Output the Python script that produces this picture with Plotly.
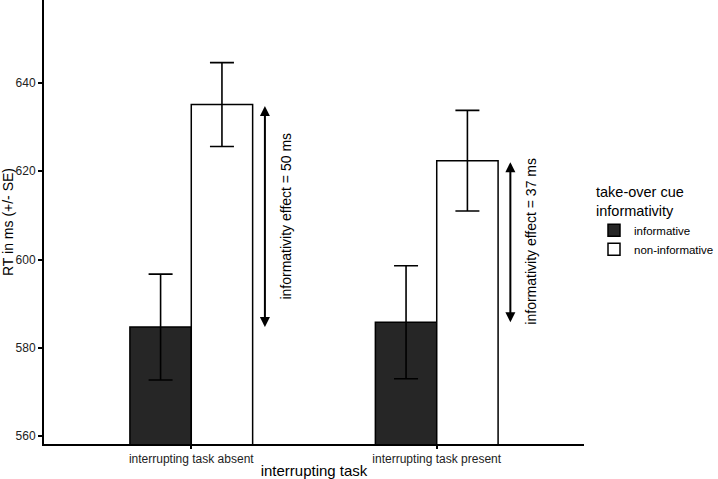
import plotly.graph_objects as go

categories = ["interrupting task absent", "interrupting task present"]
cat_pos = [1, 2]
informative_mean = [584.7, 585.8]
informative_se = [12.0, 12.8]
noninformative_mean = [635.1, 622.4]
noninformative_se = [9.5, 11.4]
y_ticks = [560, 580, 600, 620, 640]

FONT = "Liberation Sans, Arial, sans-serif"
BAR_W = 0.25

fig = go.Figure()
fig.add_trace(go.Bar(
    x=cat_pos, y=informative_mean, width=BAR_W, offset=-BAR_W,
    name="informative",
    marker=dict(color="#262626", line=dict(color="black", width=1.5)),
    error_y=dict(type="data", array=informative_se, color="black", thickness=1.6, width=12),
))
fig.add_trace(go.Bar(
    x=cat_pos, y=noninformative_mean, width=BAR_W, offset=0,
    name="non-informative",
    marker=dict(color="white", line=dict(color="black", width=1.5)),
    error_y=dict(type="data", array=noninformative_se, color="black", thickness=1.6, width=12),
))

# informativity effect arrows and labels
for c, lo, hi in zip(cat_pos, informative_mean, noninformative_mean):
    fig.add_annotation(
        x=c + 0.3, y=lo, ax=c + 0.3, ay=hi, xref="x", yref="y", axref="x", ayref="y",
        text="", showarrow=True, arrowhead=2, arrowside="end+start", arrowsize=1,
        arrowwidth=2, arrowcolor="black",
    )
    fig.add_annotation(
        x=c + 0.385, y=(lo + hi) / 2, xref="x", yref="y",
        text=f"informativity effect = {round(hi - lo)} ms", showarrow=False,
        textangle=-90, font=dict(family=FONT, size=14, color="black"),
    )

fig.update_layout(
    width=718, height=479,
    margin=dict(l=44, r=134, t=0, b=35),
    paper_bgcolor="white", plot_bgcolor="white",
    barmode="overlay",
    font=dict(family=FONT, color="black"),
    showlegend=True,
    legend=dict(
        title=dict(text="take-over cue<br>informativity", font=dict(size=14.5, family=FONT)),
        font=dict(size=11.5, family=FONT),
        xref="container", yref="container",
        x=594 / 718, y=1 - 178 / 479, xanchor="left", yanchor="top",
        tracegroupgap=0, itemwidth=30,
    ),
    xaxis=dict(
        range=[0.4, 2.6], tickvals=cat_pos, ticktext=categories,
        showline=True, linecolor="black", linewidth=2,
        ticks="outside", ticklen=3, tickcolor="black", tickwidth=1.5,
        showgrid=False, zeroline=False,
        tickfont=dict(size=12, family=FONT, color="#222"),
        title=dict(text="interrupting task", font=dict(size=15, family=FONT), standoff=0),
    ),
    yaxis=dict(
        range=[558.2, 658.8], tickvals=y_ticks,
        showline=True, linecolor="black", linewidth=2,
        ticks="outside", ticklen=4, tickcolor="black", tickwidth=1.5,
        showgrid=False, zeroline=False,
        tickfont=dict(size=12, family=FONT, color="#222"),
        title=dict(text="RT in ms (+/- SE)", font=dict(size=14, family=FONT), standoff=4),
    ),
)

fig.write_html("out.html")
